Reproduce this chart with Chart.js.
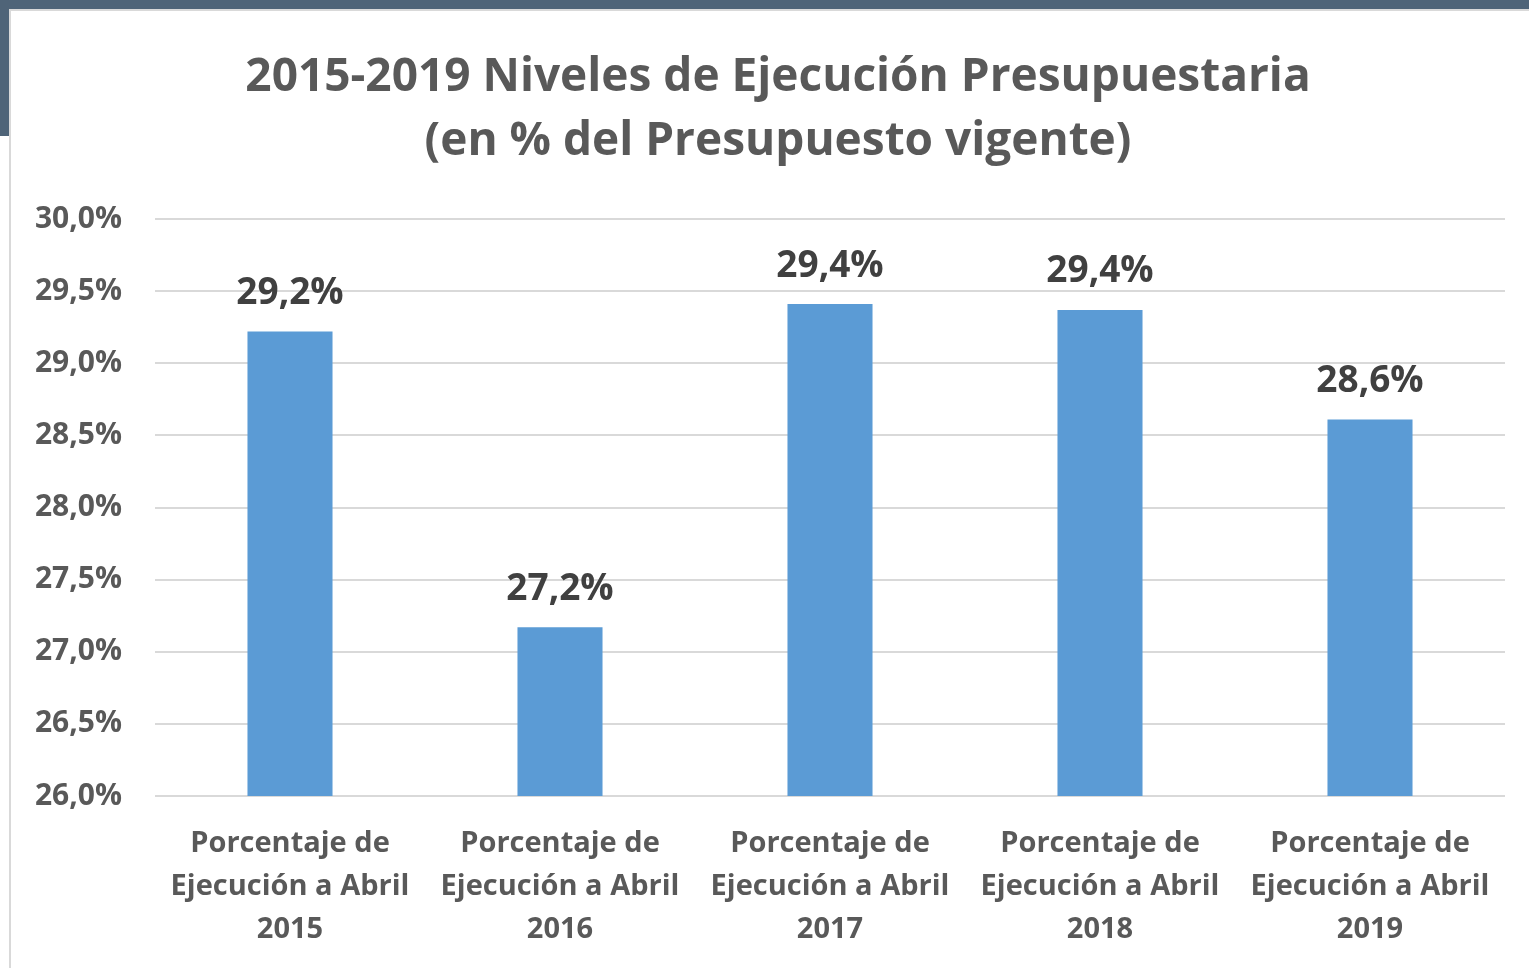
<!DOCTYPE html>
<html>
<head>
<meta charset="utf-8">
<script src="https://cdn.jsdelivr.net/npm/chart.js@4"></script>
<style>
  html, body { margin: 0; padding: 0; width: 1529px; height: 968px; overflow: hidden; background: #ffffff; }
  #band-top { position: absolute; left: 0; top: 0; width: 1529px; height: 9px; background: #4f6478; }
  #band-left { position: absolute; left: 0; top: 0; width: 9px; height: 136px; background: #4f6478; }
  #panel { position: absolute; left: 9px; top: 9px; width: 1520px; height: 959px; background: #ffffff;
           border-left: 2px solid #d9d9d9; border-top: 2px solid #d9d9d9; box-sizing: border-box; }
  #wrap { position: absolute; left: 0; top: 0; width: 1529px; height: 968px; }
</style>
</head>
<body>
<div id="band-top"></div>
<div id="band-left"></div>
<div id="panel"></div>
<div id="wrap"><canvas id="c" width="1529" height="968"></canvas></div>
<script>
const categories = [
  ["Porcentaje de", "Ejecución a Abril", "2015"],
  ["Porcentaje de", "Ejecución a Abril", "2016"],
  ["Porcentaje de", "Ejecución a Abril", "2017"],
  ["Porcentaje de", "Ejecución a Abril", "2018"],
  ["Porcentaje de", "Ejecución a Abril", "2019"]
];
const values = [29.22, 27.17, 29.41, 29.37, 28.61];
const valueLabels = ["29,2%", "27,2%", "29,4%", "29,4%", "28,6%"];
const titleLines = ["2015-2019 Niveles de Ejecución Presupuestaria", "(en % del Presupuesto vigente)"];
const yMin = 26, yMax = 30, yStep = 0.5;

const FONT = "'Open Sans', Lato, sans-serif";

const valueLabelPlugin = {
  id: 'valueLabels',
  afterDatasetsDraw(chart) {
    const ctx = chart.ctx;
    const meta = chart.getDatasetMeta(0);
    ctx.save();
    ctx.font = "bold 37px " + FONT;
    ctx.fillStyle = "#404040";
    ctx.textAlign = "center";
    ctx.textBaseline = "middle";
    meta.data.forEach((bar, i) => {
      ctx.fillText(valueLabels[i], bar.x, bar.y - 38);
    });
    ctx.restore();
  }
};

const titlePlugin = {
  id: 'customTitle',
  afterDraw(chart) {
    const ctx = chart.ctx;
    const size = 46, lh = size * 1.41, top = 45;
    ctx.save();
    ctx.font = "bold " + size + "px " + FONT;
    ctx.fillStyle = "#595959";
    ctx.textAlign = "center";
    ctx.textBaseline = "middle";
    titleLines.forEach((t, i) => {
      ctx.fillText(t, 778, top + lh * i + lh / 2);
    });
    ctx.restore();
  }
};

new Chart(document.getElementById('c'), {
  type: 'bar',
  data: {
    labels: categories,
    datasets: [{
      data: values,
      backgroundColor: '#5b9bd5',
      borderWidth: 0,
      barPercentage: 0.315,
      categoryPercentage: 1.0
    }]
  },
  options: {
    responsive: false,
    animation: false,
    devicePixelRatio: 1,
    layout: { padding: { left: 0, right: 24, top: 219, bottom: 0 } },
    plugins: {
      legend: { display: false },
      tooltip: { enabled: false },
      title: { display: false }
    },
    scales: {
      x: {
        afterFit(scale) { scale.height = 172; },
        grid: { display: false, drawTicks: false },
        border: { display: false },
        ticks: {
          color: '#595959',
          font: { family: FONT, size: 29, weight: 'bold', lineHeight: 1.48 },
          padding: 26,
          maxRotation: 0,
          autoSkip: false
        }
      },
      y: {
        min: yMin,
        max: yMax,
        afterFit(scale) { scale.width = 155; },
        grid: { color: '#d9d9d9', lineWidth: 2, drawTicks: false },
        border: { display: false },
        ticks: {
          stepSize: yStep,
          color: '#595959',
          padding: 33,
          font: { family: FONT, size: 30, weight: 'bold' },
          callback: (v) => v.toFixed(1).replace('.', ',') + '%'
        }
      }
    }
  },
  plugins: [valueLabelPlugin, titlePlugin]
});
</script>
</body>
</html>
